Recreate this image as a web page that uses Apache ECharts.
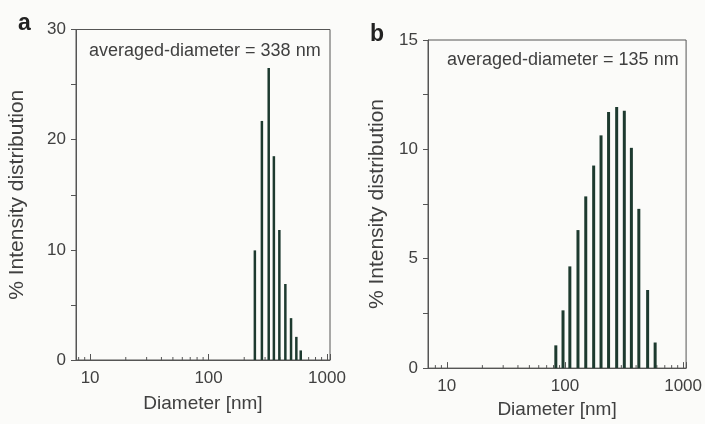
<!DOCTYPE html>
<html>
<head>
<meta charset="utf-8">
<script src="https://cdn.jsdelivr.net/npm/echarts@6/dist/echarts.min.js"></script>
<style>
  html, body { margin: 0; padding: 0; background: #fbfbf9; }
  #chart { width: 705px; height: 424px; }
</style>
</head>
<body>
<div id="chart"></div>
<script>
// panel a: diameter (nm) and % intensity
const diamA = [246, 282, 322, 356, 396, 445, 497, 551, 600];
const intA = [9.95, 21.7, 26.5, 18.5, 11.8, 6.9, 3.8, 2.1, 0.87];
// panel b
const diamB = [83.7, 96.3, 110, 128.9, 150, 175, 202, 234, 274, 318, 365, 422, 501, 580];
const intB = [1.04, 2.64, 4.65, 6.31, 7.85, 9.26, 10.64, 11.71, 11.94, 11.77, 10.07, 7.28, 3.57, 1.17];
// axis ticks
const majorTicks = [10, 100, 1000];
const minorTicks = [8, 9, 20, 30, 40, 50, 60, 70, 80, 90, 200, 300, 400, 500, 600, 700, 800, 900];

const font = "'Liberation Sans', Arial, sans-serif";
const axisColor = "#555";
const textColor = "#404040";
const barColor = "#1d3a2f";

const chart = echarts.init(document.getElementById("chart"));

function xAxisFor(gridIndex, min) {
  return {
    type: "log",
    gridIndex: gridIndex,
    min: min,
    max: 1060,
    logBase: 10,
    name: "Diameter [nm]",
    nameLocation: "middle",
    nameGap: gridIndex === 0 ? 34 : 31,
    nameTextStyle: { fontSize: 19, color: textColor, fontFamily: font },
    axisLine: { lineStyle: { color: axisColor } },
    axisTick: { inside: true, length: 6, lineStyle: { color: axisColor } },
    axisLabel: {
      margin: 10,
      fontSize: 17,
      color: textColor,
      fontFamily: font,
      formatter: function (v) {
        const r = Math.round(v);
        return majorTicks.indexOf(r) >= 0 ? String(r) : "";
      },
    },
    splitLine: { show: false },
  };
}

function yAxisFor(gridIndex, max, interval, gap) {
  return {
    type: "value",
    gridIndex: gridIndex,
    min: 0,
    max: max,
    interval: interval,
    name: "% Intensity distribution",
    nameLocation: "middle",
    nameGap: gap,
    nameTextStyle: { fontSize: 21, color: textColor, fontFamily: font },
    axisLine: { show: true, lineStyle: { color: axisColor } },
    axisTick: { show: true, length: 5, lineStyle: { color: axisColor } },
    minorTick: { show: true, splitNumber: 2, length: 5, lineStyle: { color: axisColor } },
    axisLabel: { margin: 10, fontSize: 17, color: textColor, fontFamily: font },
    splitLine: { show: false },
  };
}

// small inward ticks at the log sub-divisions
function minorTickSeries(xi, yi) {
  return {
    type: "custom",
    xAxisIndex: xi,
    yAxisIndex: yi,
    silent: true,
    data: minorTicks,
    renderItem: function (params, api) {
      const p = api.coord([api.value(0), 0]);
      return {
        type: "line",
        shape: { x1: p[0], y1: p[1], x2: p[0], y2: p[1] - 3 },
        style: { stroke: axisColor, lineWidth: 1 },
      };
    },
  };
}

chart.setOption({
  backgroundColor: "#fbfbf9",
  animation: false,
  textStyle: { fontFamily: font },
  grid: [
    { left: 76, top: 29.5, width: 254, height: 330.5, show: true, borderColor: axisColor, borderWidth: 1 },
    { left: 428, top: 40, width: 261, height: 332, show: true, borderColor: axisColor, borderWidth: 1 },
  ],
  xAxis: [xAxisFor(0, 7.6), xAxisFor(1, 6.93)],
  yAxis: [yAxisFor(0, 30, 10, 48), yAxisFor(1, 15, 5, 40)],
  graphic: [
    { type: "text", left: 18, top: 12, style: { text: "a", font: "bold 23px " + font, fill: "#222" } },
    { type: "text", left: 370, top: 23, style: { text: "b", font: "bold 23px " + font, fill: "#222" } },
    { type: "text", left: 89, top: 42, style: { text: "averaged-diameter = 338 nm", font: "18px " + font, fill: textColor } },
    { type: "text", left: 447, top: 51, style: { text: "averaged-diameter = 135 nm", font: "18px " + font, fill: textColor } },
  ],
  series: [
    {
      type: "bar",
      xAxisIndex: 0,
      yAxisIndex: 0,
      barWidth: 2.5,
      itemStyle: { color: barColor },
      data: diamA.map((d, i) => [d, intA[i]]),
    },
    {
      type: "bar",
      xAxisIndex: 1,
      yAxisIndex: 1,
      barWidth: 3,
      itemStyle: { color: barColor },
      data: diamB.map((d, i) => [d, intB[i]]),
    },
    minorTickSeries(0, 0),
    minorTickSeries(1, 1),
  ],
});
</script>
</body>
</html>
